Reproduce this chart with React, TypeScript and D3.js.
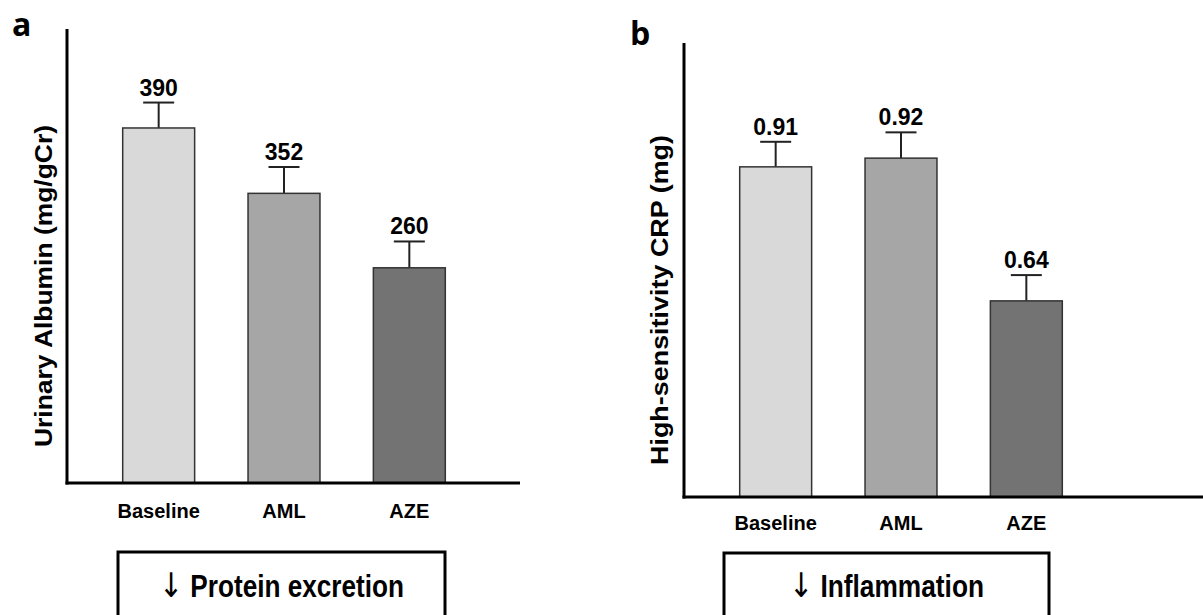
import React from "react";
import * as d3 from "d3";

const categories = ["Baseline", "AML", "AZE"];
const barColors = ["#d9d9d9", "#a6a6a6", "#737373"];

const albuminBars = [391, 319, 237];
const albuminErr = [28, 29, 29];
const albuminLabels = ["390", "352", "260"];

const crpBars = [0.909, 0.933, 0.54];
const crpErr = [0.069, 0.071, 0.071];
const crpLabels = ["0.91", "0.92", "0.64"];

const panels = [
  {
    letter: "a", letterX: 12, letterY: 36,
    axisX: 67, top: 29, bottom: 483, xEnd: 520,
    band: [96, 472], yMax: 500,
    bars: albuminBars, err: albuminErr, labels: albuminLabels,
    catY: 518,
    title: "Urinary Albumin (mg/gCr)", titleX: 52, titleY: 286, titleLen: 322,
    box: [118, 445], boxTop: 552, boxText: "Protein excretion", boxLen: 245,
  },
  {
    letter: "b", letterX: 630, letterY: 45,
    axisX: 684, top: 43, bottom: 497, xEnd: 1203,
    band: [713, 1089], yMax: 1.25,
    bars: crpBars, err: crpErr, labels: crpLabels,
    catY: 530,
    title: "High-sensitivity CRP  (mg)", titleX: 668, titleY: 300, titleLen: 330,
    box: [724, 1049], boxTop: 553, boxText: "Inflammation", boxLen: 195,
  },
];

const sans = "'Liberation Sans', Arial, sans-serif";

function Panel({ p }: { p: (typeof panels)[number] }) {
  const x = d3.scaleBand<string>().domain(categories).range(p.band as [number, number])
    .paddingInner(0.426).paddingOuter(0.213);
  const y = d3.scaleLinear().domain([0, p.yMax]).range([p.bottom, p.top]);
  const bw = x.bandwidth();
  const cap = 31;

  return (
    <g>
      <text x={p.letterX} y={p.letterY} fontFamily="'Open Sans', sans-serif" fontWeight={700} fontSize={32}>
        {p.letter}
      </text>

      {categories.map((c, i) => {
        const cx = (x(c) as number) + bw / 2;
        const yTop = y(p.bars[i] + p.err[i]);
        return (
          <g key={c}>
            <line x1={cx} x2={cx} y1={y(p.bars[i])} y2={yTop} stroke="#222" strokeWidth={2} />
            <line x1={cx - cap / 2} x2={cx + cap / 2} y1={yTop} y2={yTop} stroke="#222" strokeWidth={2} />
            <rect x={x(c)} y={y(p.bars[i])} width={bw} height={p.bottom - y(p.bars[i])}
              fill={barColors[i]} stroke="#333" strokeWidth={1.5} />
            <text x={cx} y={yTop - 7} textAnchor="middle" fontFamily={sans} fontWeight={700} fontSize={23}>
              {p.labels[i]}
            </text>
            <text x={cx} y={p.catY} textAnchor="middle" fontFamily={sans} fontWeight={700} fontSize={20}>
              {c}
            </text>
          </g>
        );
      })}

      <line x1={p.axisX} x2={p.axisX} y1={p.top} y2={p.bottom + 1.5} stroke="#000" strokeWidth={3} />
      <line x1={p.axisX - 1.5} x2={p.xEnd} y1={p.bottom} y2={p.bottom} stroke="#000" strokeWidth={3} />

      <text transform={`translate(${p.titleX},${p.titleY}) rotate(-90)`} textAnchor="middle"
        fontFamily={sans} fontWeight={700} fontSize={24} textLength={p.titleLen} lengthAdjust="spacingAndGlyphs">
        {p.title}
      </text>

      <rect x={p.box[0]} y={p.boxTop} width={p.box[1] - p.box[0]} height={120}
        fill="none" stroke="#000" strokeWidth={3} />
      <text x={(p.box[0] + p.box[1]) / 2} y={597} textAnchor="middle" fontFamily={sans} fontWeight={700}
        fontSize={31} textLength={p.boxLen} lengthAdjust="spacingAndGlyphs">
        <tspan fontFamily="'DejaVu Sans', sans-serif" fontWeight={400} fontSize={34}>↓</tspan>
        <tspan> {p.boxText}</tspan>
      </text>
    </g>
  );
}

export default function App() {
  return (
    <svg width={1203} height={615} style={{ position: "absolute", left: 0, top: 0, background: "#fff" }}>
      <rect width={1203} height={615} fill="#fff" />
      {panels.map((p) => (
        <Panel key={p.letter} p={p} />
      ))}
    </svg>
  );
}
